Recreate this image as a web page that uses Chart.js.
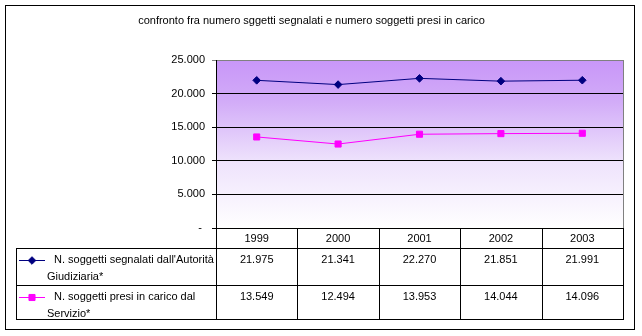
<!DOCTYPE html>
<html><head><meta charset="utf-8">
<script src="https://cdn.jsdelivr.net/npm/chart.js@4.4.0/dist/chart.umd.min.js"></script>
<style>html,body{margin:0;padding:0;background:#fff;} #wrap{position:relative;width:642px;height:336px;}</style>
</head><body><div id="wrap"><canvas id="c" width="642" height="336"></canvas></div>
<script>
const chartTitle = 'confronto fra numero sggetti segnalati e numero soggetti presi in carico';
const years = ['1999', '2000', '2001', '2002', '2003'];
const seriesNames = ["N. soggetti segnalati dall'Autorità Giudiziaria*", 'N. soggetti presi in carico dal Servizio*'];
const seriesNameLines = [["N. soggetti segnalati dall'Autorità", 'Giudiziaria*'], ['N. soggetti presi in carico dal', 'Servizio*']];
const segnalati = [21975, 21341, 22270, 21851, 21991];
const presiInCarico = [13549, 12494, 13953, 14044, 14096];
const yMin = 0, yMax = 25000, yStep = 5000;

const FONT = '"Liberation Sans", Arial, sans-serif';
function fmt(n) { return n === 0 ? '- ' : String(n).replace(/\B(?=(\d{3})+(?!\d))/g, '.'); }

const bgPlugin = {
  id: 'bg',
  beforeDraw(chart) {
    const a = chart.chartArea, ctx = chart.ctx;
    const g = ctx.createLinearGradient(0, a.top, 0, a.bottom);
    g.addColorStop(0, '#C896F8');
    g.addColorStop(0.25, '#D2ACF8');
    g.addColorStop(0.6, '#EEE2FC');
    g.addColorStop(1, '#FFFFFF');
    ctx.save();
    ctx.fillStyle = g;
    ctx.fillRect(a.left, a.top, a.right - a.left, a.bottom - a.top);
    ctx.restore();
  }
};

const tablePlugin = {
  id: 'table',
  afterDraw(chart) {
    const ctx = chart.ctx, a = chart.chartArea, xs = chart.scales.x;
    const L = Math.round(a.left), R = Math.round(a.right), B = Math.round(a.bottom);
    const n = years.length, w = (R - L) / n;
    const rowTops = [B + 20, B + 57, B + 91];
    const tLeft = 16;
    ctx.save();
    ctx.lineWidth = 1;
    ctx.strokeStyle = '#808080';
    ctx.beginPath(); ctx.moveTo(R + 0.5, Math.round(a.top)); ctx.lineTo(R + 0.5, B); ctx.stroke();
    ctx.strokeStyle = '#000';
    ctx.beginPath();
    rowTops.forEach(y => { ctx.moveTo(tLeft, y + 0.5); ctx.lineTo(R + 1, y + 0.5); });
    ctx.moveTo(tLeft + 0.5, rowTops[0]); ctx.lineTo(tLeft + 0.5, rowTops[2] + 1);
    for (let k = 0; k <= n; k++) {
      const x = Math.round(L + k * w) + 0.5;
      ctx.moveTo(x, B); ctx.lineTo(x, rowTops[2] + 1);
    }
    ctx.stroke();
    ctx.fillStyle = '#000';
    ctx.font = '11px ' + FONT;
    ctx.textBaseline = 'middle';
    ctx.textAlign = 'center';
    const allData = [segnalati, presiInCarico];
    const rowY = [rowTops[0] + 12, rowTops[1] + 12];
    allData.forEach((arr, r) => {
      arr.forEach((v, i) => ctx.fillText(fmt(v), xs.getPixelForValue(i), rowY[r]));
    });
    ctx.textAlign = 'left';
    const ds = chart.data.datasets;
    seriesNameLines.forEach((lines, r) => {
      const y = rowY[r];
      ctx.fillStyle = '#000';
      ctx.fillText(lines[0], 54, y);
      ctx.fillText(lines[1], 47, y + 17);
      ctx.strokeStyle = ds[r].borderColor;
      ctx.fillStyle = ds[r].backgroundColor;
      ctx.beginPath(); ctx.moveTo(19, y + 0.5); ctx.lineTo(45, y + 0.5); ctx.stroke();
      Chart.helpers.drawPoint(ctx, {pointStyle: ds[r].pointStyle, radius: ds[r].pointRadius, borderWidth: 1}, 32, y + 0.5);
    });
    ctx.strokeStyle = '#000';
    ctx.strokeRect(5.5, 5.5, 629, 324);
    ctx.restore();
  }
};

new Chart(document.getElementById('c'), {
  type: 'line',
  data: {
    labels: years,
    datasets: [
      { label: seriesNames[0], data: segnalati, borderColor: '#000080', backgroundColor: '#000080',
        borderWidth: 1, pointStyle: 'rectRot', pointRadius: 3.8, pointBorderWidth: 1, tension: 0 },
      { label: seriesNames[1], data: presiInCarico, borderColor: '#FF00FF', backgroundColor: '#FF00FF',
        borderWidth: 1, pointStyle: 'rect', pointRadius: 4.3, pointBorderWidth: 1, tension: 0 }
    ]
  },
  options: {
    responsive: false,
    animation: false,
    devicePixelRatio: 1,
    layout: { padding: { left: 0, right: 19, top: 0, bottom: 88 } },
    plugins: {
      legend: { display: false },
      tooltip: { enabled: false },
      title: { display: true, text: chartTitle, color: '#000', font: { family: FONT, size: 11, weight: 'normal' },
        padding: { top: 14, bottom: 32.8 } }
    },
    scales: {
      x: {
        type: 'category', offset: true,
        grid: { display: false, drawTicks: false },
        border: { display: false },
        ticks: { color: '#000', font: { family: FONT, size: 11 }, padding: 4, maxRotation: 0, autoSkip: false },
        afterFit(s) { s.height = 20; }
      },
      y: {
        min: yMin, max: yMax,
        ticks: { stepSize: yStep, color: '#000', font: { family: FONT, size: 11 }, padding: 7,
          callback: v => fmt(v) },
        grid: { color: c => (c.tick && c.tick.value === yMax) ? '#808080' : '#000', lineWidth: 1, tickLength: 4, drawTicks: true },
        border: { color: '#000', width: 1 },
        afterFit(s) { s.width = 216; }
      }
    }
  },
  plugins: [bgPlugin, tablePlugin]
});
</script>
</body></html>
